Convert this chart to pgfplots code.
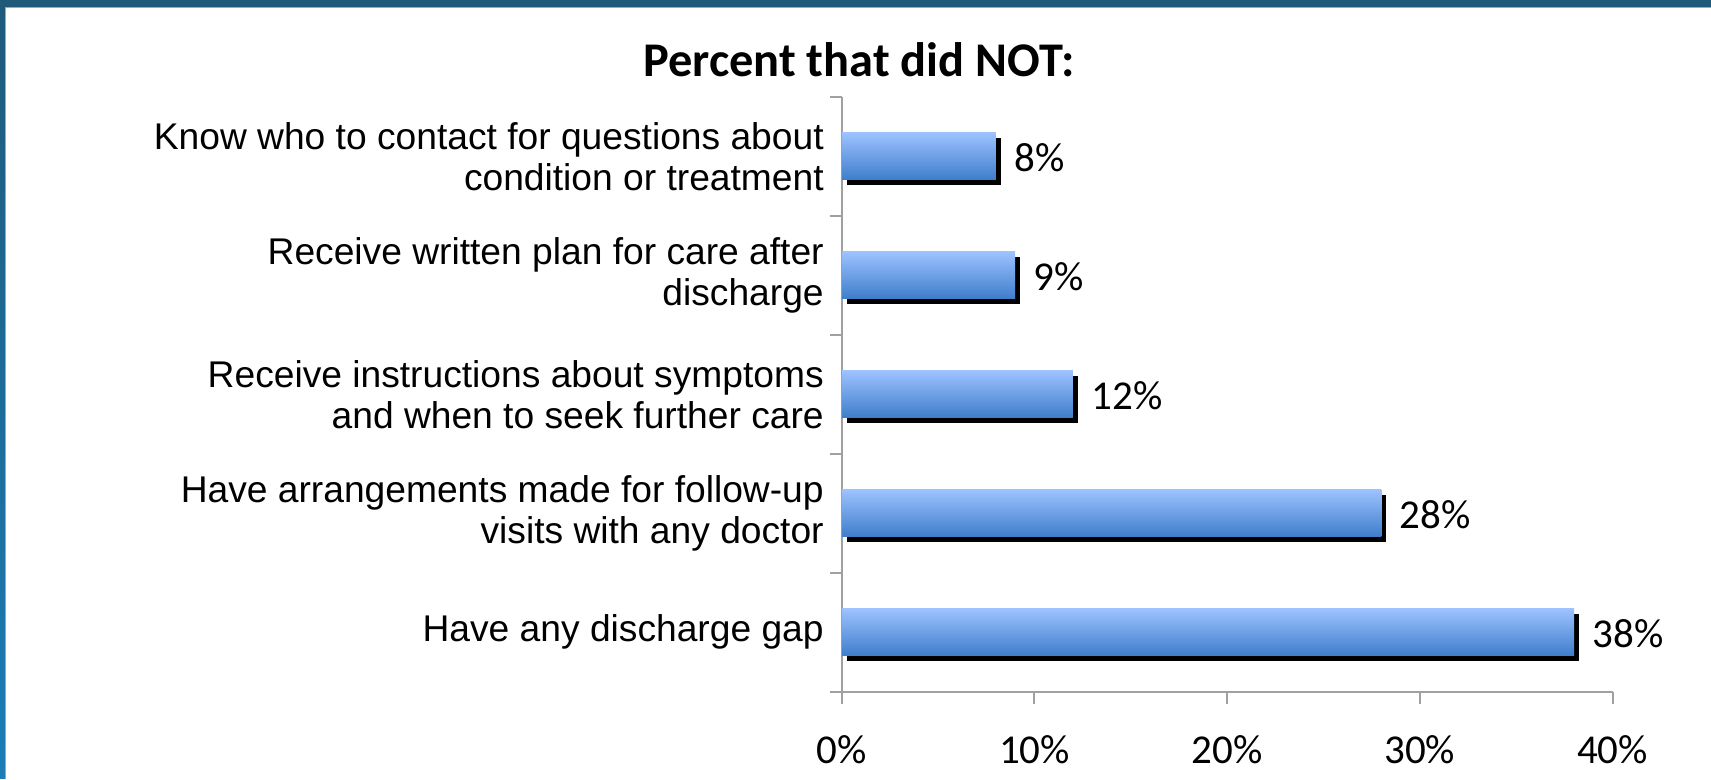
\documentclass[border=0pt]{standalone}
\usepackage{fontspec}
\setmainfont{Liberation Sans}
\newfontfamily\calibri{Carlito}
\usepackage{pgfplots}
\pgfplotsset{compat=1.18}

\definecolor{barTop}{HTML}{9CC2FF}
\definecolor{barBot}{HTML}{3E7DCB}
\definecolor{axisGray}{HTML}{A0A0A0}
\definecolor{frameDark}{HTML}{1F5A7B}
\definecolor{frameLight}{HTML}{1A7DB7}

\pgfplotsset{
  shadowbar/.style={fill=black, draw=none, xshift=2.5pt, yshift=-2.5pt, forget plot},
  bluebar/.style={draw=none, top color=barTop, bottom color=barBot,
    point meta=x,
    nodes near coords={\pgfmathprintnumber{\pgfplotspointmeta}\%},
    every node near coord/.append style={text=black, font=\calibri\fontsize{20.5}{24}\selectfont, xshift=5.8pt, yshift=-0.8pt}},
}

\begin{document}
\begin{tikzpicture}[x=0.5pt,y=0.5pt]
% slide background, 1711 x 779 units
\fill[white] (0,0) rectangle (1711,779);
\fill[frameDark] (0,772) rectangle (1711,779);
\shade[top color=frameDark,bottom color=frameLight] (0,0) rectangle (6,772);
\draw[gray!70, line width=0.5pt] (6,0) -- (6,771.5) -- (1711,771.5);

\node[anchor=base, font=\calibri\bfseries\fontsize{24.2}{28}\selectfont] at (859,702) {Percent that did NOT:};

\begin{axis}[
  at={(421pt,43.5pt)}, anchor=south west,
  scale only axis, width=385.5pt, height=297.5pt,
  xbar, bar width=23.5pt, bar shift=0pt,
  xmin=0, xmax=40, ymin=0, ymax=5,
  axis x line*=bottom, axis y line*=left,
  axis line style={axisGray, line width=1pt},
  tick align=outside, major tick length=6pt,
  tick style={axisGray, line width=1pt},
  xtick={0,10,20,30,40},
  xticklabel={\pgfmathprintnumber{\tick}\%},
  xticklabel style={font=\calibri\fontsize{20.5}{24}\selectfont, yshift=-12.2pt},
  ytick={0,1,2,3,4,5},
  yticklabels={Have any discharge gap,
    {Have arrangements made for follow-up\\visits with any doctor},
    {Receive instructions about symptoms\\and when to seek further care},
    {Receive written plan for care after\\discharge},
    {Know who to contact for questions about\\condition or treatment},
    {}},
  yticklabel style={align=right, font=\fontsize{18.6}{20.6}\selectfont, yshift=29.75pt, xshift=0.5pt},
  /pgf/number format/assume math mode=true,
  clip=false,
]
\addplot[shadowbar] coordinates {(38,0.5)};
\addplot[bluebar] coordinates {(38,0.5)};
\addplot[shadowbar] coordinates {(28,1.5)};
\addplot[bluebar] coordinates {(28,1.5)};
\addplot[shadowbar] coordinates {(12,2.5)};
\addplot[bluebar] coordinates {(12,2.5)};
\addplot[shadowbar] coordinates {(9,3.5)};
\addplot[bluebar] coordinates {(9,3.5)};
\addplot[shadowbar] coordinates {(8,4.5)};
\addplot[bluebar] coordinates {(8,4.5)};
\end{axis}
\end{tikzpicture}
\end{document}
